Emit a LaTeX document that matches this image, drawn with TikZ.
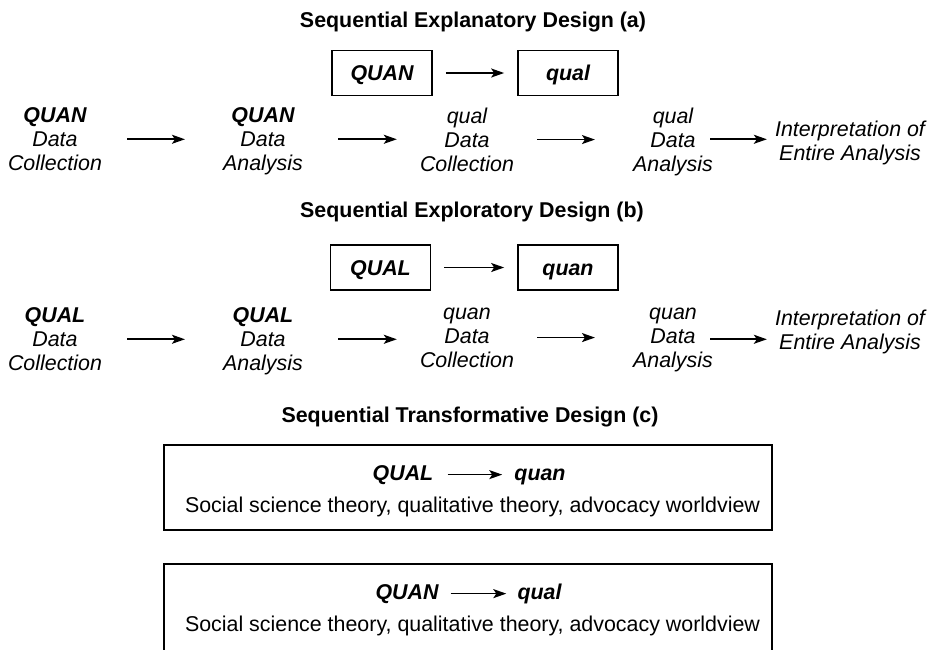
\documentclass[tikz,border=0pt]{standalone}
\usepackage{fontspec}
\setmainfont{Liberation Sans}
\usetikzlibrary{arrows.meta}
\tikzset{
 colnode/.style={font=\fontsize{21.4}{24}\selectfont\itshape, align=center, inner sep=0pt, anchor=north},
 boldit/.style={font=\fontsize{21.4}{24}\selectfont\bfseries\itshape, inner sep=0pt, anchor=base},
 plaintxt/.style={font=\fontsize{21.4}{24}\selectfont, inner sep=0pt, anchor=base},
 ttl/.style={font=\fontsize{21.4}{24}\selectfont\bfseries, inner sep=0pt, anchor=base},
 smallbox/.style={draw, line width=1.7pt, minimum width=100pt, minimum height=45pt, inner sep=0pt, text height=15.5pt, text depth=0pt, font=\fontsize{21.4}{24}\selectfont\bfseries\itshape},
 bigbox/.style={draw, line width=1.7pt, minimum width=608pt, inner sep=0pt},
 arr/.style={-{Stealth[length=13pt,width=9pt,inset=3pt]}, line width=1.6pt},
}
\begin{document}
\begin{tikzpicture}[x=1pt,y=-1pt]
\clip (0,0) rectangle (939,649);
\fill[white] (0,0) rectangle (939,649);

% ---------- (a) ----------
\node[ttl] (ta) at (473,27) {Sequential Explanatory Design (a)};
\node[smallbox] (ab1) at (382,73) {QUAN};
\node[smallbox] (ab2) at (568,73) {qual};
\draw[arr, shorten <=13pt, shorten >=13pt] (ab1) -- (ab2);

\node[colnode] (a1) at (55,107.5) {\textbf{QUAN}\\Data\\Collection};
\node[colnode] (a2) at (263,107.5) {\textbf{QUAN}\\Data\\Analysis};
\node[colnode] (a3) at (467,107.5) {qual\\Data\\Collection};
\node[colnode] (a4) at (673,107.5) {qual\\Data\\Analysis};
\node[colnode] (ai) at (850,120.5) {Interpretation of\\Entire Analysis};
\draw[arr, shorten <=25pt, shorten >=38pt] (a1.east) -- (a1.east -| a2.west);
\draw[arr, shorten <=35pt, shorten >=23pt] (a2.east |- a1.east) -- (a1.east -| a3.west);
\draw[arr, shorten <=23pt, shorten >=38pt] (a3.east) -- (a3.east -| a4.west);
\draw[arr, shorten <=-3pt, shorten >=8pt] (a4.east |- a1.east) -- (a1.east -| ai.west);

% ---------- (b) ----------
\node[ttl] (tb) at (472,217) {Sequential Exploratory Design (b)};
\node[smallbox] (bb1) at (380.5,267.5) {QUAL};
\node[smallbox] (bb2) at (568,267.5) {quan};
\draw[arr, shorten <=13pt, shorten >=13pt] (bb1) -- (bb2);

\node[colnode] (b1) at (55,307.5) {\textbf{QUAL}\\Data\\Collection};
\node[colnode] (b2) at (263,307.5) {\textbf{QUAL}\\Data\\Analysis};
\node[colnode] (b3) at (467,307.5) {quan\\Data\\Collection};
\node[colnode] (b4) at (673,307.5) {quan\\Data\\Analysis};
\node[colnode] (bi) at (850,309.5) {Interpretation of\\Entire Analysis};
\draw[arr, shorten <=25pt, shorten >=38pt] (b1.east) -- (b1.east -| b2.west);
\draw[arr, shorten <=35pt, shorten >=23pt] (b2.east |- b1.east) -- (b1.east -| b3.west);
\draw[arr, shorten <=23pt, shorten >=38pt] (b3.east) -- (b3.east -| b4.west);
\draw[arr, shorten <=-3pt, shorten >=8pt] (b4.east |- b1.east) -- (b1.east -| bi.west);

% ---------- (c) ----------
\node[ttl] (tc) at (470,422) {Sequential Transformative Design (c)};
\node[bigbox, minimum height=85pt] (cb1) at (468,487.5) {};
\node[boldit] (c1l) at (403,480) {QUAL};
\node[boldit] (c1r) at (540,480) {quan};
\draw[arr, shorten <=14pt, shorten >=12pt] (c1l.east) -- (c1l.east -| c1r.west);
\node[plaintxt] (c1s) at (472.5,512) {Social science theory, qualitative theory, advocacy worldview};

\node[bigbox, minimum height=100pt] (cb2) at (468,614) {};
\node[boldit] (c2l) at (407,599) {QUAN};
\node[boldit] (c2r) at (539.5,599) {qual};
\draw[arr, shorten <=12pt, shorten >=11pt] (c2l.east) -- (c2l.east -| c2r.west);
\node[plaintxt] (c2s) at (472.5,631) {Social science theory, qualitative theory, advocacy worldview};
\end{tikzpicture}
\end{document}
